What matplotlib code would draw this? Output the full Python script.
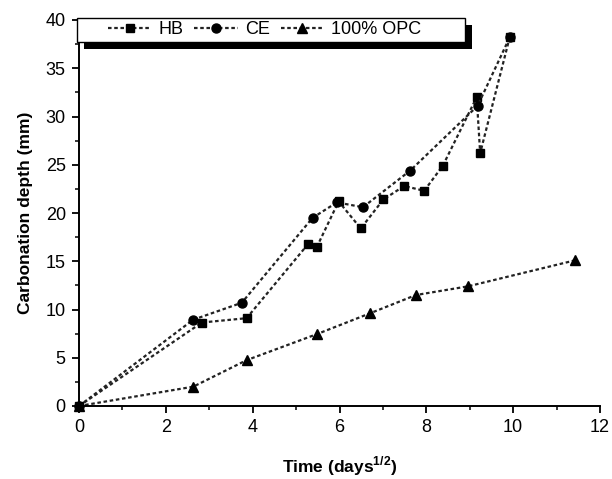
import matplotlib
matplotlib.use('Agg')
import matplotlib.pyplot as plt
from matplotlib.patches import Rectangle
from matplotlib.ticker import MultipleLocator

plt.rcParams['font.family'] = ['Liberation Sans', 'DejaVu Sans']

# values
hb_x = [0, 2.83, 3.86, 5.28, 5.48, 5.98, 6.49, 7.01, 7.49, 7.95, 8.38, 9.16, 9.24, 9.92]
hb_y = [0, 8.65, 9.1, 16.8, 16.5, 21.2, 18.4, 21.4, 22.8, 22.3, 24.9, 32.0, 26.2, 38.2]

ce_x = [0, 2.63, 3.75, 5.38, 5.94, 6.54, 7.63, 9.18, 9.92]
ce_y = [0, 8.94, 10.7, 19.5, 21.1, 20.6, 24.4, 31.1, 38.2]

opc_x = [0, 2.63, 3.86, 5.48, 6.7, 7.76, 8.96, 11.43]
opc_y = [0, 2.0, 4.75, 7.45, 9.6, 11.5, 12.4, 15.1]

W, H = 612, 479
fig = plt.figure(figsize=(W / 100, H / 100), dpi=100)
ax = fig.add_axes([79 / W, 1 - 406 / H, (600 - 79) / W, (406 - 20) / H])


def px_box(x0, y0, x1, y1):
    # pixel box measured from the top-left -> figure fraction rectangle
    return (x0 / W, 1 - y1 / H), (x1 - x0) / W, (y1 - y0) / H


ls = (0, (1.6, 1.2))
col = '#222222'
l1, = ax.plot(hb_x, hb_y, linestyle=ls, color=col, lw=1.6, marker='s', ms=6,
              mfc='black', mec='black', clip_on=False)
l2, = ax.plot(ce_x, ce_y, linestyle=ls, color=col, lw=1.6, marker='o', ms=6.5,
              mfc='black', mec='black', clip_on=False)
l3, = ax.plot(opc_x, opc_y, linestyle=ls, color=col, lw=1.6, marker='^', ms=6.5,
              mfc='black', mec='black', clip_on=False)

ax.set_xlim(0, 12)
ax.set_ylim(0, 40)
ax.xaxis.set_major_locator(MultipleLocator(2))
ax.xaxis.set_minor_locator(MultipleLocator(1))
ax.yaxis.set_major_locator(MultipleLocator(5))
ax.yaxis.set_minor_locator(MultipleLocator(2.5))

for s in ['top', 'right']:
    ax.spines[s].set_visible(False)
for s in ['left', 'bottom']:
    ax.spines[s].set_linewidth(1.4)
ax.tick_params(which='major', direction='out', length=5, width=1.3, labelsize=13, pad=4.5)
ax.tick_params(which='minor', direction='out', length=3, width=1.1)

ax.set_xlabel('Time (days$^{\\mathregular{1/2}}$)', fontsize=12.5, fontweight='bold', labelpad=13)
ax.set_ylabel('Carbonation depth (mm)', fontsize=12.5, fontweight='bold', labelpad=9)

# legend box with a hard black shadow, like the original
xy, w, h = px_box(84, 25, 472, 49)
fig.add_artist(Rectangle(xy, w, h, transform=fig.transFigure, facecolor='black',
                         edgecolor='none', zorder=3))
xy, w, h = px_box(77, 18, 465, 42)
fig.add_artist(Rectangle(xy, w, h, transform=fig.transFigure, facecolor='white',
                         edgecolor='black', lw=1.0, zorder=4))

fig.legend([l1, l2, l3], ['HB', 'CE', '100% OPC'], loc='center left',
           bbox_to_anchor=(108 / W, 1 - 30 / H), bbox_transform=fig.transFigure,
           ncol=3, fontsize=13, frameon=False, handlelength=2.4, handletextpad=0.4,
           columnspacing=0.6, borderpad=0, borderaxespad=0)

fig.savefig('out.png', dpi=100)
